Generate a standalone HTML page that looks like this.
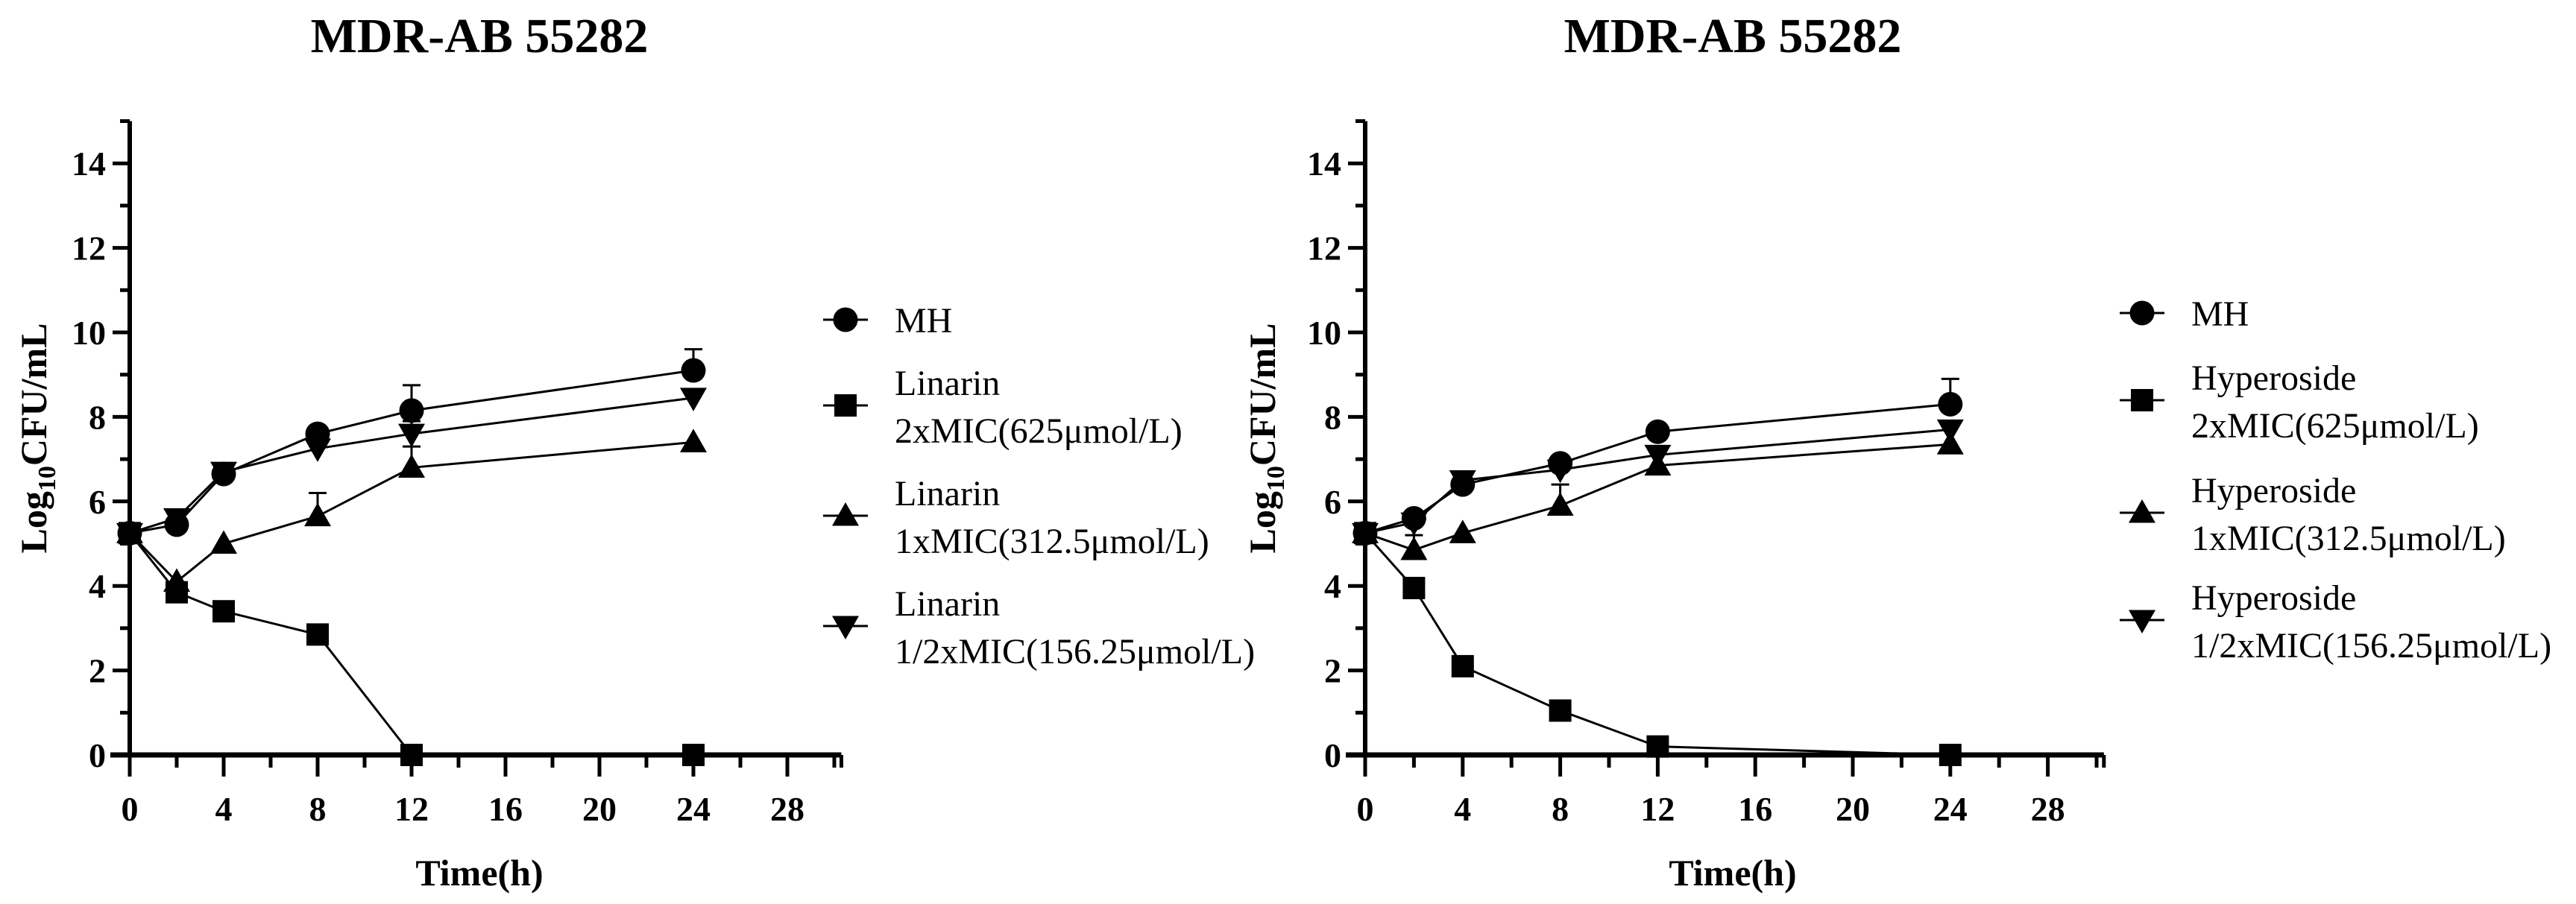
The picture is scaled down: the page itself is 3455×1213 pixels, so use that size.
<!DOCTYPE html>
<html><head><meta charset="utf-8"><style>
html,body{margin:0;padding:0;background:#fff;}
svg{display:block;font-family:"Liberation Serif",serif;}
</style></head><body>
<svg id="fig" width="3455" height="1213" viewBox="0 0 3455 1213" xmlns="http://www.w3.org/2000/svg"></svg>
<script>
const times = [0, 2, 4, 8, 12, 24];
const xTicks = [0, 4, 8, 12, 16, 20, 24, 28];
const yTicks = [0, 2, 4, 6, 8, 10, 12, 14];
// Left panel (Linarin)
const leftMH = [5.25, 5.45, 6.65, 7.6, 8.15, 9.1];
const leftMHErr = [0, 0.1, 0.1, 0.1, 0.6, 0.5];
const left2x = [5.25, 3.85, 3.4, 2.85, 0, 0];
const left2xErr = [0, 0, 0, 0, 0, 0];
const left1x = [5.25, 4.1, 5.0, 5.65, 6.8, 7.4];
const left1xErr = [0, 0.1, 0, 0.55, 0.5, 0];
const leftHalf = [5.25, 5.6, 6.7, 7.25, 7.6, 8.45];
const leftHalfErr = [0, 0.1, 0.1, 0.1, 0.3, 0.2];
const leftNames = ["Linarin", "Linarin", "Linarin"];
// Right panel (Hyperoside)
const rightMH = [5.25, 5.6, 6.4, 6.9, 7.65, 8.3];
const rightMHErr = [0, 0.1, 0.1, 0.1, 0.1, 0.6];
const right2x = [5.25, 3.95, 2.1, 1.05, 0.2, 0];
const right2xErr = [0, 0, 0, 0, 0, 0];
const right1x = [5.25, 4.85, 5.25, 5.9, 6.85, 7.35];
const right1xErr = [0, 0.35, 0, 0.5, 0.1, 0];
const rightHalf = [5.25, 5.5, 6.5, 6.75, 7.1, 7.7];
const rightHalfErr = [0, 0.1, 0.2, 0.3, 0.1, 0.1];
const rightNames = ["Hyperoside", "Hyperoside", "Hyperoside"];
const doses = ["2xMIC(625μmol/L)", "1xMIC(312.5μmol/L)", "1/2xMIC(156.25μmol/L)"];

const NS = "http://www.w3.org/2000/svg";
const svg = document.getElementById("fig");
function mk(tag, attrs, parent) {
  const e = document.createElementNS(NS, tag);
  for (const k in attrs) e.setAttribute(k, attrs[k]);
  (parent || svg).appendChild(e);
  return e;
}
function marker(g, shape, cx, cy, s) {
  let m;
  if (shape === "circle") m = mk("circle", {cx: cx, cy: cy, r: s * 0.55, fill: "#000"}, g);
  else if (shape === "square") m = mk("rect", {x: cx - s / 2, y: cy - s / 2, width: s, height: s, fill: "#000"}, g);
  else if (shape === "tri") m = mk("polygon", {points: `${cx},${cy - s * 0.6} ${cx - s * 0.6},${cy + s * 0.45} ${cx + s * 0.6},${cy + s * 0.45}`, fill: "#000"}, g);
  else m = mk("polygon", {points: `${cx},${cy + s * 0.6} ${cx - s * 0.6},${cy - s * 0.45} ${cx + s * 0.6},${cy - s * 0.45}`, fill: "#000"}, g);
  return m;
}

function panel(cfg) {
  const g = mk("g", {});
  
  
  const X = v => cfg.x0 + v * cfg.xu;
  const Y = v => cfg.y0 - v * cfg.yu;
  const xMax = 30.3, yMax = 15;
  // title
  const t = mk("text", {x: cfg.titleX, y: 70, "font-size": 66, "font-weight": "bold", "text-anchor": "middle"}, g);
  t.textContent = "MDR-AB 55282";
  
  
  // y axis
  const ya = mk("g", {}, g);
  
  
  mk("line", {x1: X(0), y1: Y(yMax), x2: X(0), y2: Y(0) + 3, stroke: "#000", "stroke-width": 6}, ya);
  for (let v = 1; v <= 15; v++) {
    const major = v % 2 === 0;
    mk("line", {x1: X(0) - (major ? 23 : 13), y1: Y(v), x2: X(0), y2: Y(v), stroke: "#000", "stroke-width": 5}, ya);
  }
  mk("line", {x1: X(0) - 23, y1: Y(0), x2: X(0), y2: Y(0), stroke: "#000", "stroke-width": 6}, ya);
  yTicks.forEach(v => {
    const tl = mk("text", {x: X(0) - 32, y: Y(v) + 16, "font-size": 46, "font-weight": "bold", "text-anchor": "end"}, ya);
    tl.textContent = v;
    
    
  });
  const yt = mk("text", {x: 0, y: 0, "font-size": 50, "font-weight": "bold", "text-anchor": "middle", transform: `translate(${cfg.yTitleX},588) rotate(-90)`}, g);
  
  
  yt.innerHTML = 'Log<tspan font-size="34" dy="12">10</tspan><tspan dy="-12">CFU/mL</tspan>';
  // x axis
  const xa = mk("g", {}, g);
  
  
  mk("line", {x1: X(0) - 26, y1: Y(0), x2: X(xMax), y2: Y(0), stroke: "#000", "stroke-width": 7}, xa);
  for (let v = 0; v <= 30; v += 2) {
    const major = v % 4 === 0;
    mk("line", {x1: X(v), y1: Y(0), x2: X(v), y2: Y(0) + (major ? 29 : 17), stroke: "#000", "stroke-width": 5}, xa);
  }
  mk("line", {x1: X(xMax), y1: Y(0), x2: X(xMax), y2: Y(0) + 17, stroke: "#000", "stroke-width": 5}, xa);
  xTicks.forEach(v => {
    const tl = mk("text", {x: X(v), y: Y(0) + 88, "font-size": 46, "font-weight": "bold", "text-anchor": "middle"}, xa);
    tl.textContent = v;
    
    
  });
  const xt = mk("text", {x: cfg.titleX, y: 1188, "font-size": 50, "font-weight": "bold", "text-anchor": "middle"}, g);
  xt.textContent = "Time(h)";
  
  
  // series
  cfg.series.forEach((s, si) => {
    const sg = mk("g", {}, g);
    
    
    const pts = s.vals.map((v, i) => `${X(times[i])},${Y(v)}`).join(" ");
    mk("polyline", {points: pts, fill: "none", stroke: "#000", "stroke-width": 3}, sg);
    s.vals.forEach((v, i) => {
      const e = s.err[i];
      if (e > 0.15) {
        const eb = mk("path", {d: `M${X(times[i])},${Y(v)} V${Y(v + e)} M${X(times[i]) - 12},${Y(v + e)} H${X(times[i]) + 12}`, stroke: "#000", "stroke-width": 3, fill: "none"}, sg);
        
        
      }
    });
    s.vals.forEach((v, i) => {
      const m = marker(sg, s.shape, X(times[i]), Y(v), 30);
      
      
    });
  });
  // legend
  const lg = mk("g", {}, g);
  
  
  cfg.series.forEach((s, si) => {
    const ly = cfg.legY[si];
    const le = mk("g", {}, lg);
    
    
    mk("line", {x1: cfg.legX - 30, y1: ly, x2: cfg.legX + 30, y2: ly, stroke: "#000", "stroke-width": 3}, le);
    marker(le, s.shape, cfg.legX, ly, 30);
    if (s.label2) {
      const a = mk("text", {x: cfg.legX + 66, y: ly - 14, "font-size": 48}, le);
      a.textContent = s.label;
      const b = mk("text", {x: cfg.legX + 66, y: ly + 50, "font-size": 48}, le);
      b.textContent = s.label2;
    } else {
      const a = mk("text", {x: cfg.legX + 66, y: ly + 17, "font-size": 48}, le);
      a.textContent = s.label;
    }
  });
}

panel({
  name: "left-panel-linarin", x0: 174, xu: 31.5, y0: 1013, yu: 56.7,
  titleX: 643, yTitleX: 62, legX: 1134, legY: [429, 544, 692, 840],
  series: [
    {key: "mh", shape: "circle", vals: leftMH, err: leftMHErr, label: "MH"},
    {key: "2x", shape: "square", vals: left2x, err: left2xErr, label: leftNames[0], label2: doses[0]},
    {key: "1x", shape: "tri", vals: left1x, err: left1xErr, label: leftNames[1], label2: doses[1]},
    {key: "half", shape: "inv", vals: leftHalf, err: leftHalfErr, label: leftNames[2], label2: doses[2]}
  ]
});
panel({
  name: "right-panel-hyperoside", x0: 1831, xu: 32.7, y0: 1013, yu: 56.7,
  titleX: 2324, yTitleX: 1710, legX: 2873, legY: [420, 537, 688, 832],
  series: [
    {key: "mh", shape: "circle", vals: rightMH, err: rightMHErr, label: "MH"},
    {key: "2x", shape: "square", vals: right2x, err: right2xErr, label: rightNames[0], label2: doses[0]},
    {key: "1x", shape: "tri", vals: right1x, err: right1xErr, label: rightNames[1], label2: doses[1]},
    {key: "half", shape: "inv", vals: rightHalf, err: rightHalfErr, label: rightNames[2], label2: doses[2]}
  ]
});
</script>
</body></html>
